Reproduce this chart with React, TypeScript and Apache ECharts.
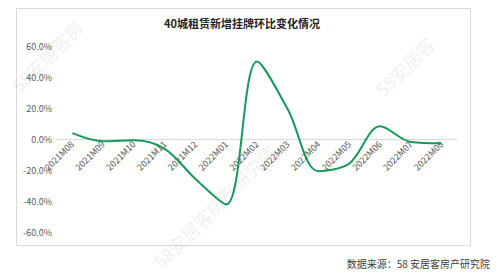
import React, { useEffect, useRef } from "react";
import * as echarts from "echarts";

const titleText = "40城租赁新增挂牌环比变化情况";
const sourceText = "数据来源：58 安居客房产研究院";
const categories = [
  "2021M08", "2021M09", "2021M10", "2021M11", "2021M12",
  "2022M01", "2022M02", "2022M03", "2022M04", "2022M05",
  "2022M06", "2022M07", "2022M08",
];
const momChange = [4.1, -1.2, -0.5, -6.0, -25.5, -42.0, 50.5, 19.5, -20.5, -15.5, 8.6, -1.6, -2.4];
const yTicks = { min: -60, max: 60, interval: 20 };
const watermarkTL = "58安居客房";
const watermarkTR = "58安居客";
const watermarkC = "58安居客房产研究院";

const FONT = '"Noto Sans CJK SC", "Noto Sans", sans-serif';
const GRID_H = 185.6;

export default function App() {
  const ref = useRef<HTMLDivElement>(null);
  useEffect(() => {
    if (!ref.current) return;
    const chart = echarts.init(ref.current, null, { renderer: "svg" });
    const wm = { fontSize: 18, fill: "rgba(150,150,150,0.16)", fontFamily: FONT };
    chart.setOption({
      animation: false,
      backgroundColor: "#ffffff",
      textStyle: { fontFamily: FONT },
      grid: { left: 57, top: 46.7, width: 400, height: GRID_H, containLabel: false },
      xAxis: {
        type: "category",
        data: categories,
        boundaryGap: true,
        position: "bottom",
        offset: -GRID_H / 2,
        axisLine: { show: true, onZero: false, lineStyle: { color: "#d9d9d9", width: 1 } },
        axisTick: { show: false },
        axisLabel: { rotate: 45, fontSize: 9, color: "#595959", margin: 3, fontFamily: FONT },
        splitLine: { show: false },
      },
      yAxis: {
        type: "value",
        min: yTicks.min,
        max: yTicks.max,
        interval: yTicks.interval,
        axisLine: { show: false },
        axisTick: { show: false },
        splitLine: { show: false },
        axisLabel: {
          fontSize: 9,
          color: "#595959",
          margin: 5,
          fontFamily: FONT,
          formatter: (v: number) => `${v.toFixed(1)}%`,
        },
      },
      series: [
        {
          type: "line",
          data: momChange,
          smooth: 0.33,
          symbol: "none",
          lineStyle: { color: "#159a5a", width: 2 },
          z: 3,
        },
      ],
      graphic: [
        {
          type: "rect",
          shape: { x: 16.5, y: 8.5, width: 454, height: 237 },
          style: { fill: "none", stroke: "#d9d9d9", lineWidth: 1 },
          silent: true,
          z: -1,
        },
        {
          type: "text",
          x: 242,
          y: 17,
          style: {
            text: titleText,
            fontSize: 11,
            fontWeight: "bold",
            fill: "#262626",
            fontFamily: FONT,
            align: "center",
          },
        },
        {
          type: "text",
          right: 10,
          top: 258,
          style: { text: sourceText, fontSize: 10, fill: "#404040", fontFamily: FONT },
        },
        {
          type: "text",
          x: 8, y: 82, rotation: Math.PI / 4,
          style: { ...wm, text: watermarkTL },
          silent: true, z: 10,
        },
        {
          type: "text",
          x: 372, y: 86, rotation: Math.PI / 4,
          style: { ...wm, text: watermarkTR },
          silent: true, z: 10,
        },
        {
          type: "text",
          x: 150, y: 258, rotation: Math.PI / 4,
          style: { ...wm, text: watermarkC },
          silent: true, z: 10,
        },
      ],
    });
    return () => chart.dispose();
  }, []);
  return (
    <div
      ref={ref}
      style={{ position: "fixed", left: 0, top: 0, width: 500, height: 273 }}
    />
  );
}
